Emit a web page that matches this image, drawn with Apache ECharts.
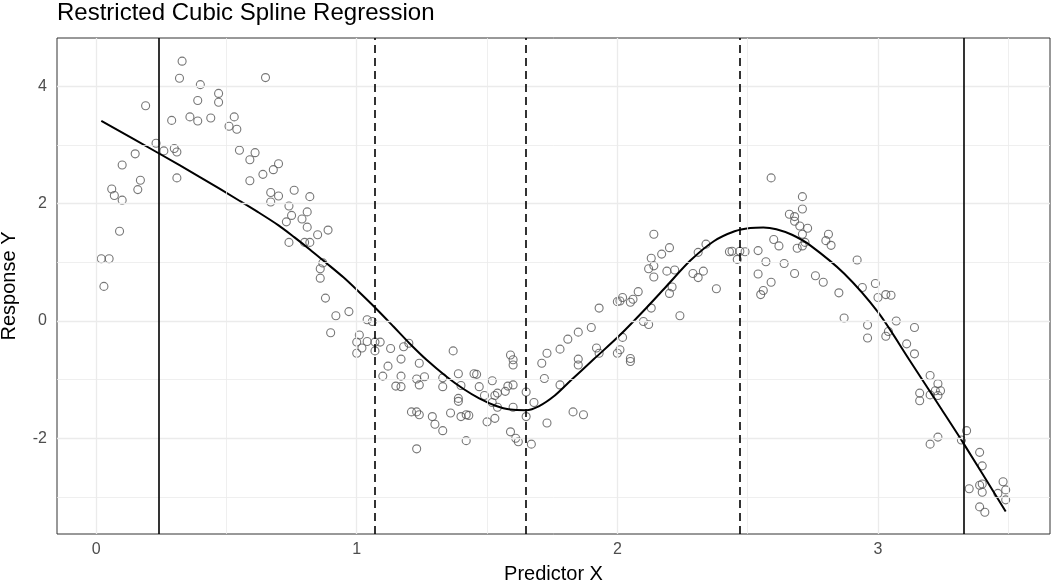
<!DOCTYPE html>
<html lang="en">
<head>
    <meta charset="UTF-8">
    <title>Restricted Cubic Spline Regression</title>
    <style>
        html, body { margin: 0; padding: 0; background: #fff; }
    </style>
</head>
<body>
<div id="main" style="width:1053px;height:583px;"></div>
<script src="https://cdn.jsdelivr.net/npm/echarts@6.0.0/dist/echarts.min.js"></script>
<script>
    // observed points [x, y]
    var points = [
        [0.02, 1.06], [0.03, 0.59], [0.05, 1.06], [0.06, 2.25], [0.07, 2.14], [0.09, 1.53], [0.10, 2.06], [0.10, 2.66],
        [0.15, 2.85], [0.16, 2.24], [0.17, 2.40], [0.19, 3.67], [0.23, 3.03], [0.26, 2.90], [0.29, 3.42], [0.30, 2.94],
        [0.31, 2.88], [0.31, 2.44], [0.32, 4.14], [0.33, 4.43], [0.36, 3.48], [0.39, 3.41], [0.39, 3.76], [0.40, 4.03],
        [0.44, 3.46], [0.47, 3.88], [0.47, 3.73], [0.51, 3.32], [0.53, 3.48], [0.54, 3.27], [0.55, 2.91], [0.59, 2.75],
        [0.59, 2.39], [0.61, 2.87], [0.64, 2.50], [0.65, 4.15], [0.67, 2.19], [0.67, 2.03], [0.68, 2.58], [0.70, 2.13],
        [0.70, 2.68], [0.73, 1.69], [0.74, 1.96], [0.74, 1.34], [0.75, 1.80], [0.76, 2.23], [0.79, 1.74], [0.80, 1.34],
        [0.81, 1.86], [0.81, 1.60], [0.82, 2.12], [0.82, 1.34], [0.85, 1.47], [0.86, 0.89], [0.86, 0.73], [0.87, 0.99],
        [0.88, 0.39], [0.89, 1.55], [0.90, -0.20], [0.92, 0.09], [0.97, 0.16], [1.00, -0.55], [1.00, -0.36], [1.01, -0.24],
        [1.02, -0.46], [1.04, 0.02], [1.04, -0.35], [1.06, -0.01], [1.07, -0.51], [1.07, -0.36], [1.09, -0.36], [1.10, -0.94],
        [1.12, -0.77], [1.13, -0.47], [1.15, -1.11], [1.17, -0.94], [1.17, -1.12], [1.17, -0.65], [1.18, -0.44], [1.20, -0.38],
        [1.21, -1.55], [1.23, -1.55], [1.23, -2.18], [1.23, -0.99], [1.24, -0.72], [1.24, -1.09], [1.24, -1.60], [1.26, -0.95],
        [1.29, -1.63], [1.30, -1.76], [1.33, -1.87], [1.33, -0.97], [1.33, -1.12], [1.36, -1.57], [1.37, -0.51], [1.39, -1.37],
        [1.39, -1.32], [1.39, -0.90], [1.40, -1.10], [1.40, -1.63], [1.42, -1.60], [1.42, -2.04], [1.43, -1.61], [1.45, -0.90],
        [1.46, -0.91], [1.47, -1.12], [1.49, -1.27], [1.50, -1.72], [1.52, -1.02], [1.52, -1.39], [1.53, -1.27], [1.53, -1.66],
        [1.54, -1.23], [1.54, -1.47], [1.57, -1.20], [1.58, -1.11], [1.59, -0.58], [1.59, -1.89], [1.60, -0.66], [1.60, -1.47],
        [1.60, -0.75], [1.60, -1.09], [1.61, -2.00], [1.62, -2.06], [1.65, -1.21], [1.65, -1.63], [1.67, -2.10], [1.68, -1.39],
        [1.71, -0.72], [1.72, -0.98], [1.73, -0.55], [1.73, -1.74], [1.78, -0.48], [1.78, -1.09], [1.81, -0.31], [1.83, -1.55],
        [1.85, -0.65], [1.85, -0.75], [1.85, -0.19], [1.87, -1.60], [1.90, -0.11], [1.92, -0.46], [1.93, -0.55], [1.93, 0.22],
        [2.00, 0.33], [2.00, -0.55], [2.01, 0.34], [2.01, -0.49], [2.02, 0.40], [2.02, -0.28], [2.05, 0.32], [2.05, -0.64],
        [2.05, -0.69], [2.06, 0.37], [2.08, 0.50], [2.10, -0.01], [2.12, -0.06], [2.12, 0.89], [2.13, 1.07], [2.13, 0.22],
        [2.14, 0.75], [2.14, 1.48], [2.14, 0.94], [2.17, 1.14], [2.19, 0.85], [2.20, 1.25], [2.20, 0.47], [2.21, 0.58],
        [2.22, 0.87], [2.24, 0.09], [2.29, 0.81], [2.31, 0.74], [2.31, 1.17], [2.33, 0.85], [2.34, 1.31], [2.38, 0.55],
        [2.43, 1.18], [2.44, 1.19], [2.46, 1.05], [2.47, 1.19], [2.49, 1.18], [2.54, 1.20], [2.54, 0.80], [2.55, 0.45],
        [2.56, 0.52], [2.57, 1.01], [2.59, 2.44], [2.59, 0.66], [2.60, 1.39], [2.62, 1.28], [2.64, 0.98], [2.66, 1.82],
        [2.68, 1.70], [2.68, 0.81], [2.68, 1.78], [2.69, 1.24], [2.70, 1.62], [2.71, 2.12], [2.71, 1.91], [2.71, 1.48],
        [2.71, 1.28], [2.72, 1.34], [2.73, 1.58], [2.76, 0.77], [2.79, 0.66], [2.80, 1.37], [2.81, 1.48], [2.82, 1.29],
        [2.85, 0.48], [2.87, 0.05], [2.92, 1.04], [2.94, 0.57], [2.96, -0.29], [2.96, -0.07], [2.99, 0.64], [3.00, 0.40],
        [3.03, 0.45], [3.03, -0.26], [3.04, -0.18], [3.05, 0.44], [3.07, 0.00], [3.11, -0.39], [3.14, -0.56], [3.14, -0.11],
        [3.16, -1.23], [3.16, -1.36], [3.20, -1.26], [3.20, -2.10], [3.20, -0.93], [3.22, -1.19], [3.23, -1.27], [3.23, -1.98],
        [3.23, -1.07], [3.24, -1.19], [3.32, -2.03], [3.34, -1.87], [3.35, -2.86], [3.39, -2.80], [3.39, -2.24], [3.39, -3.17],
        [3.40, -2.47], [3.40, -2.78], [3.40, -2.92], [3.41, -3.26], [3.46, -2.94], [3.48, -2.74], [3.49, -3.05], [3.49, -2.88]
    ];

    // fitted spline
    var curveX = [0.02, 0.24, 0.40, 0.55, 0.62, 0.70, 0.76, 0.82, 0.88, 0.95, 1.01, 1.07, 1.14, 1.20, 1.27, 1.345,
        1.41, 1.47, 1.53, 1.59, 1.65, 1.70, 1.76, 1.82, 1.91, 2.01, 2.10, 2.19, 2.28, 2.37, 2.45, 2.51, 2.56, 2.61,
        2.67, 2.74, 2.87, 3.00, 3.12, 3.24, 3.33, 3.49];
    var curveY = [3.41, 2.86, 2.45, 2.05, 1.86, 1.63, 1.43, 1.22, 1.00, 0.74, 0.49, 0.23, -0.09, -0.37, -0.67, -0.95,
        -1.16, -1.32, -1.44, -1.51, -1.52, -1.45, -1.27, -1.02, -0.65, -0.24, 0.17, 0.60, 1.03, 1.36, 1.53, 1.585, 1.595,
        1.565, 1.47, 1.29, 0.81, 0.15, -0.66, -1.48, -2.10, -3.25];

    // knots
    var outerKnots = [0.238, 3.326];
    var innerKnots = [1.070, 1.646, 2.474];

    // axes
    var xTicks = [0, 1, 2, 3];
    var xMinor = [0.5, 1.5, 2.5, 3.5];
    var yTicks = [-2, 0, 2, 4];
    var yMinor = [-3, -1, 1, 3];

    var font = 'Liberation Sans, Arial, sans-serif';

    var curveData = curveX.map(function (x, i) { return [x, curveY[i]]; });

    function vLines(vals) { return vals.map(function (v) { return {xAxis: v}; }); }
    function hLines(vals) { return vals.map(function (v) { return {yAxis: v}; }); }

    var chart = echarts.init(document.getElementById('main'));

    var option = {
        backgroundColor: '#fff',
        animation: false,
        title: {
            text: 'Restricted Cubic Spline Regression',
            left: 57,
            top: 1,
            padding: 0,
            textStyle: {fontFamily: font, fontSize: 24, fontWeight: 'normal', color: '#000'}
        },
        grid: {
            left: 57, right: 3, top: 38, bottom: 49,
            outerBoundsMode: 'none',
            containLabel: false,
            show: true, borderColor: '#333', borderWidth: 1, backgroundColor: '#fff'
        },
        xAxis: {
            type: 'value',
            min: -0.15,
            max: 3.66,
            name: 'Predictor X',
            nameLocation: 'middle',
            nameGap: 30,
            nameTextStyle: {fontFamily: font, fontSize: 20, color: '#000'},
            axisLine: {show: false},
            splitLine: {show: false},
            axisTick: {show: true, length: 4, customValues: xTicks, lineStyle: {color: '#333', width: 1}},
            axisLabel: {customValues: xTicks, fontFamily: font, fontSize: 16, color: '#4d4d4d', margin: 8}
        },
        yAxis: {
            type: 'value',
            min: -3.632,
            max: 4.825,
            name: 'Response Y',
            nameLocation: 'middle',
            nameGap: 38,
            nameTextStyle: {fontFamily: font, fontSize: 20, color: '#000'},
            axisLine: {show: false},
            splitLine: {show: false},
            axisTick: {show: true, length: 4, customValues: yTicks, lineStyle: {color: '#333', width: 1}},
            axisLabel: {customValues: yTicks, fontFamily: font, fontSize: 16, color: '#4d4d4d', margin: 10}
        },
        series: [
            {
                // minor grid
                type: 'line', data: [], silent: true, z: 1,
                markLine: {
                    silent: true, symbol: 'none', label: {show: false}, animation: false,
                    lineStyle: {color: '#ebebeb', width: 0.8, type: 'solid'},
                    data: vLines(xMinor).concat(hLines(yMinor))
                }
            },
            {
                // major grid
                type: 'line', data: [], silent: true, z: 1,
                markLine: {
                    silent: true, symbol: 'none', label: {show: false}, animation: false,
                    lineStyle: {color: '#ebebeb', width: 1.3, type: 'solid'},
                    data: vLines(xTicks).concat(hLines(yTicks))
                }
            },
            {
                type: 'scatter',
                data: points,
                symbol: 'circle',
                symbolSize: 8,
                z: 3,
                itemStyle: {color: 'rgba(0,0,0,0)', borderColor: '#555', borderWidth: 1.1}
            },
            {
                type: 'line',
                data: curveData,
                smooth: 0.3,
                showSymbol: false,
                z: 4,
                lineStyle: {color: '#000', width: 2}
            },
            {
                // outer knots
                type: 'line', data: [], silent: true, z: 5,
                markLine: {
                    silent: true, symbol: 'none', label: {show: false}, animation: false,
                    lineStyle: {color: '#000', width: 1.6, type: 'solid'},
                    data: vLines(outerKnots)
                }
            },
            {
                // inner knots
                type: 'line', data: [], silent: true, z: 5,
                markLine: {
                    silent: true, symbol: 'none', label: {show: false}, animation: false,
                    lineStyle: {color: '#000', width: 1.6, type: [8, 5]},
                    data: vLines(innerKnots)
                }
            }
        ]
    };

    chart.setOption(option);
</script>
</body>
</html>
